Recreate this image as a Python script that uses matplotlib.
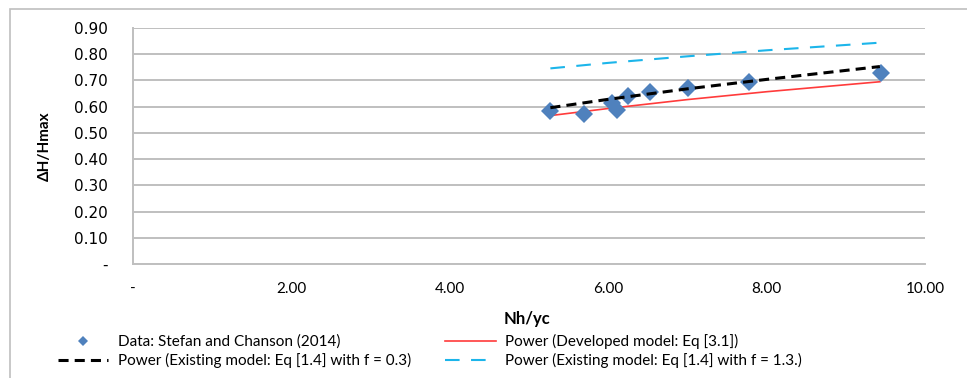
import matplotlib.pyplot as plt
from matplotlib.patches import Rectangle

# measured data (Stefan and Chanson 2014)
nh_yc = [5.27, 5.70, 6.05, 6.11, 6.25, 6.53, 7.01, 7.78, 9.45]
dh_hmax = [0.583, 0.572, 0.615, 0.588, 0.641, 0.657, 0.670, 0.694, 0.730]

# fitted power curves
fit_x = [5.27, 6.0, 7.0, 8.0, 9.43]
developed = [0.566, 0.593, 0.627, 0.657, 0.695]
existing_f03 = [0.596, 0.628, 0.668, 0.704, 0.753]
existing_f13 = [0.746, 0.767, 0.792, 0.815, 0.844]

yticks = [0.0, 0.1, 0.2, 0.3, 0.4, 0.5, 0.6, 0.7, 0.8, 0.9]
xticks = [0, 2, 4, 6, 8, 10]

fig = plt.figure(figsize=(9.67, 3.78), dpi=100)
ax = fig.add_axes([133 / 967, 1 - 264 / 378, (925 - 133) / 967, (264 - 28) / 378])

grid_col = '#bfbfbf'

ax.plot(nh_yc, dh_hmax, 'D', color='#4f81bd', markersize=9.5, markeredgewidth=0,
        label='Data: Stefan and Chanson (2014)', zorder=3)
ax.plot(fit_x, existing_f03, color='black', lw=2.2, dashes=(3.3, 2.0),
        label='Power (Existing model: Eq [1.4] with f = 0.3)', zorder=4)
ax.plot(fit_x, developed, color='#ff3b3b', lw=1.2,
        label='Power (Developed model: Eq [3.1])', zorder=2)
ax.plot(fit_x, existing_f13, color='#1cb5ea', lw=1.5, dashes=(7, 5.5),
        label='Power (Existing model: Eq [1.4] with f = 1.3.)', zorder=2)

ax.set_xlim(0, 10)
ax.set_ylim(0, 0.9)
ax.set_yticks(yticks)
ax.set_yticklabels(['-' if v == 0 else '%.2f' % v for v in yticks],
                   fontfamily='DejaVu Sans', fontsize=11)
ax.set_xticks(xticks)
ax.set_xticklabels(['-' if v == 0 else '%.2f' % v for v in xticks],
                   fontfamily='Lato', fontsize=11)
ax.tick_params(axis='y', length=0, pad=18)
ax.tick_params(axis='x', length=0, pad=13)

ax.grid(axis='y', color=grid_col, lw=1.4)
ax.set_axisbelow(True)
for s in ['top', 'right']:
    ax.spines[s].set_visible(False)
for s in ['left', 'bottom']:
    ax.spines[s].set_color(grid_col)
    ax.spines[s].set_linewidth(1.4)

ax.set_ylabel('ΔH/Hmax', fontfamily='Lato', fontweight='bold', fontsize=11)
ax.yaxis.set_label_coords(-(133 - 52) / 792, 0.5)
ax.set_xlabel('Nh/yc', fontfamily='Lato', fontweight='bold', fontsize=12)
ax.xaxis.set_label_coords(0.497, -(311 - 264) / 236)

leg = fig.legend(loc='upper left', bbox_to_anchor=(58 / 967, 1 - 334 / 378), ncol=2,
                 frameon=False, prop={'family': 'Lato', 'size': 11},
                 handlelength=3.3, handletextpad=0.6, columnspacing=2.25,
                 labelspacing=0.25, markerscale=0.55, borderaxespad=0, borderpad=0)

# outer chart frame (only top/left visible in the crop)
fig.patches.append(Rectangle((10 / 967, -0.1), 1.2, 1 - 9 / 378 + 0.1, transform=fig.transFigure,
                             fill=False, edgecolor='#bfbfbf', lw=1.2))

fig.savefig('out.png', dpi=100)
